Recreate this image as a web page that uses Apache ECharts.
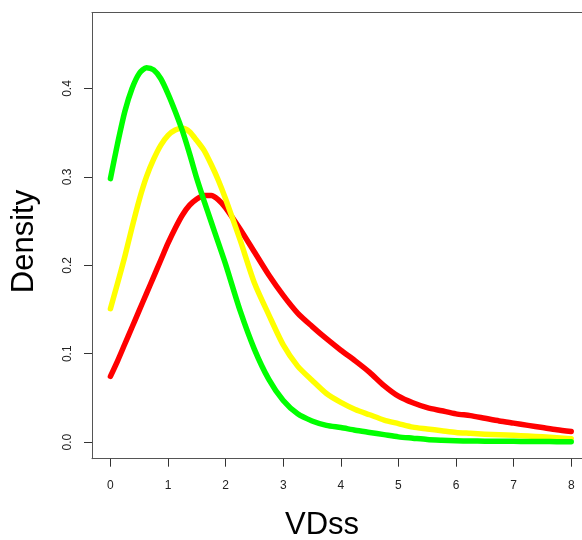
<!DOCTYPE html>
<html><head><meta charset="utf-8">
<script src="https://cdn.jsdelivr.net/npm/echarts@6/dist/echarts.min.js"></script>
<style>html,body{margin:0;padding:0;background:#fff}#c{width:582px;height:540px}</style>
</head><body><div id="c"></div>
<script>
const xValues = [0,0.125,0.25,0.375,0.5,0.625,0.75,0.875,1,1.125,1.25,1.375,1.5,1.625,1.75,1.875,2,2.25,2.5,2.75,3,3.25,3.5,3.75,4,4.25,4.5,4.75,5,5.25,5.5,5.75,6,6.25,6.5,6.75,7,7.25,7.5,7.75,8];
const greenValues = [0.298,0.338,0.374,0.400,0.417,0.4235,0.421,0.411,0.394,0.374,0.352,0.326,0.298,0.273,0.249,0.225,0.201,0.149,0.105,0.071,0.047,0.032,0.024,0.019,0.0165,0.0135,0.011,0.0085,0.006,0.0045,0.003,0.0022,0.0016,0.0013,0.0011,0.001,0.0009,0.0008,0.0007,0.0006,0.0005];
const yellowValues = [0.151,0.180,0.21,0.243,0.274,0.300,0.320,0.336,0.347,0.353,0.355,0.351,0.341,0.330,0.314,0.296,0.275,0.229,0.18,0.144,0.11,0.086,0.070,0.055,0.045,0.037,0.031,0.025,0.021,0.017,0.015,0.013,0.011,0.010,0.009,0.0083,0.0077,0.007,0.006,0.005,0.004];
const redValues = [0.0744,0.092,0.111,0.130,0.149,0.168,0.187,0.206,0.225,0.242,0.257,0.268,0.275,0.279,0.279,0.274,0.265,0.241,0.215,0.189,0.166,0.146,0.131,0.117,0.104,0.092,0.079,0.064,0.052,0.0445,0.039,0.0355,0.032,0.030,0.027,0.024,0.0215,0.019,0.0165,0.014,0.012];
const xTicks = [0,1,2,3,4,5,6,7,8];
const yTicks = [0,0.1,0.2,0.3,0.4];
const xTitle = 'VDss';
const yTitle = 'Density';

function pairs(vals){ return xValues.map((x,i)=>[x, vals[i]]); }
function lineSeries(name, vals, color){
  return {name:name, type:'line', data:pairs(vals), showSymbol:false, smooth:0.25,
    lineStyle:{color:color, width:5.5, cap:'round', join:'round'}, silent:true};
}
const chart = echarts.init(document.getElementById('c'), null, {renderer:'canvas'});
const font = 'Liberation Sans, Arial, sans-serif';
chart.setOption({
  animation:false,
  backgroundColor:'#fff',
  grid:{left:92, top:12.7, right:0, bottom:81.3, show:false},
  xAxis:[{type:'value', min:-0.32, max:8.187, position:'bottom',
    axisLine:{show:true, onZero:false, lineStyle:{color:'#555', width:1}},
    axisTick:{show:true, length:8, customValues:xTicks, lineStyle:{color:'#333', width:1}},
    axisLabel:{customValues:xTicks, margin:21, fontSize:12, color:'#222', fontFamily:font},
    splitLine:{show:false}},
   {type:'value', min:-0.32, max:8.187, position:'top',
    axisLine:{show:true, onZero:false, lineStyle:{color:'#555', width:1}},
    axisTick:{show:false}, axisLabel:{show:false}, splitLine:{show:false}}],
  yAxis:{type:'value', min:-0.0187, max:0.4857,
    axisLine:{show:true, onZero:false, lineStyle:{color:'#555', width:1}},
    axisTick:{show:true, length:8, customValues:yTicks, lineStyle:{color:'#333', width:1}},
    axisLabel:{customValues:yTicks, margin:18, rotate:90, fontSize:12, color:'#222', fontFamily:font,
      formatter:v=>v.toFixed(1)},
    splitLine:{show:false}},
  graphic:[
    {type:'text', x:322, y:525, style:{text:xTitle, font:'31px '+font, fill:'#000', textAlign:'center', textVerticalAlign:'middle'}},
    {type:'text', x:24, y:241.5, rotation:Math.PI/2, style:{text:yTitle, font:'31px '+font, fill:'#000', textAlign:'center', textVerticalAlign:'middle'}}
  ],
  series:[
    lineSeries('red', redValues, '#ff0000'),
    lineSeries('yellow', yellowValues, '#ffff00'),
    lineSeries('green', greenValues, '#00ff00')
  ]
});
</script></body></html>
